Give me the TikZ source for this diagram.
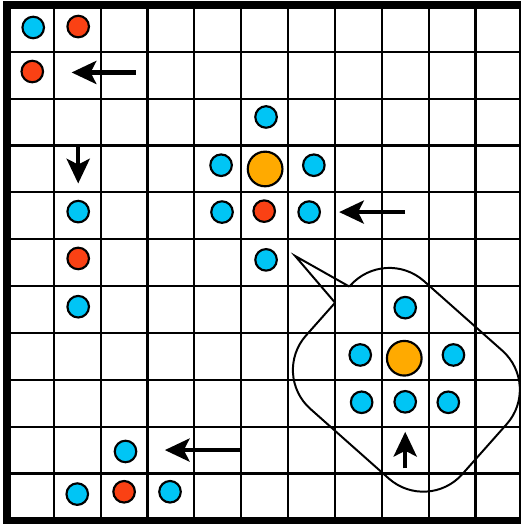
\documentclass[tikz,border=0pt]{standalone}
\usepackage{tikz}
\usetikzlibrary{arrows.meta}
\definecolor{dotblue}{RGB}{0,197,245}
\definecolor{dotred}{RGB}{250,65,20}
\definecolor{dotorange}{RGB}{255,170,0}
\tikzset{
    % small dots
    bluedot/.style={
        circle,
        draw=black,
        line width=1.3pt,
        fill=dotblue,
        inner sep=0pt,
        minimum size=0.46cm
    },
    reddot/.style={bluedot, fill=dotred},
    % big dot in the middle of a cluster
    bigdot/.style={bluedot, fill=dotorange, minimum size=0.74cm},
    % thick arrows showing the moves
    movearrow/.style={
        line width=2.5pt,
        black,
        -{Stealth[length=15pt, width=14pt, inset=3.5pt]}
    },
    gridline/.style={line width=1.3pt, black}
}

\begin{document}
\begin{tikzpicture}
\useasboundingbox (-0.149,-0.078) rectangle (10.971,11.107);

% grid
\foreach \i in {1,...,10}{
    \draw[gridline] (\i,0) -- (\i,11);
    \draw[gridline] (0,\i) -- (11,\i);
}
\draw[line width=4.4pt] (0,0) rectangle (11,11);

% callout
\begin{scope}[shift={(8.525,3.0)},rotate=-41.6]
\path
    (-2.23,0.22) coordinate (p1)
    (-3.53,0.40) coordinate (tip)
    (-2.23,0.68) coordinate (p2);
\draw[line width=1.2pt,rounded corners=1.11cm] (p2) -- (-2.23,1.825) -- (2.23,1.825)
    -- (2.23,-1.825) -- (-2.23,-1.825) -- (p1);
\draw[line width=1.2pt] (p1) -- (tip) -- (p2);
\end{scope}

% top left
\node[bluedot] (b1) at (0.56,10.52) {};
\node[reddot] (r1) at (1.52,10.54) {};
\node[reddot] (r2) at (0.54,9.58) {};

% left column
\node[bluedot] (b2) at (1.52,6.59) {};
\node[reddot] (r3) at (1.52,5.59) {};
\node[bluedot] (b3) at (1.52,4.56) {};

% middle cluster
\node[bluedot] (b4) at (5.53,8.61) {};
\node[bluedot] (b5) at (4.57,7.58) {};
\node[bigdot] (o1) at (5.51,7.50) {};
\node[bluedot] (b6) at (6.55,7.58) {};
\node[bluedot] (b7) at (4.59,6.58) {};
\node[reddot] (r4) at (5.49,6.60) {};
\node[bluedot] (b8) at (6.45,6.58) {};
\node[bluedot] (b9) at (5.53,5.56) {};

% cluster in the callout
\node[bluedot] (b10) at (8.50,4.54) {};
\node[bluedot] (b11) at (7.54,3.53) {};
\node[bigdot] (o2) at (8.48,3.46) {};
\node[bluedot] (b12) at (9.53,3.53) {};
\node[bluedot] (b13) at (7.57,2.52) {};
\node[bluedot] (b14) at (8.50,2.53) {};
\node[bluedot] (b15) at (9.42,2.52) {};

% bottom left
\node[bluedot] (b16) at (2.53,1.47) {};
\node[bluedot] (b17) at (1.50,0.56) {};
\node[reddot] (r5) at (2.50,0.61) {};
\node[bluedot] (b18) at (3.48,0.61) {};

% arrows
\path
    (2.75,9.56) coordinate (a1s) (1.38,9.56) coordinate (a1e)
    (1.52,7.99) coordinate (a2s) (1.52,7.19) coordinate (a2e)
    (8.50,6.58) coordinate (a3s) (7.09,6.58) coordinate (a3e)
    (5.01,1.50) coordinate (a4s) (3.37,1.50) coordinate (a4e)
    (8.50,1.11) coordinate (a5s) (8.50,1.89) coordinate (a5e);
\draw[movearrow] (a1s) -- (a1e);
\draw[movearrow] (a2s) -- (a2e);
\draw[movearrow] (a3s) -- (a3e);
\draw[movearrow] (a4s) -- (a4e);
\draw[movearrow] (a5s) -- (a5e);
\end{tikzpicture}
\end{document}
